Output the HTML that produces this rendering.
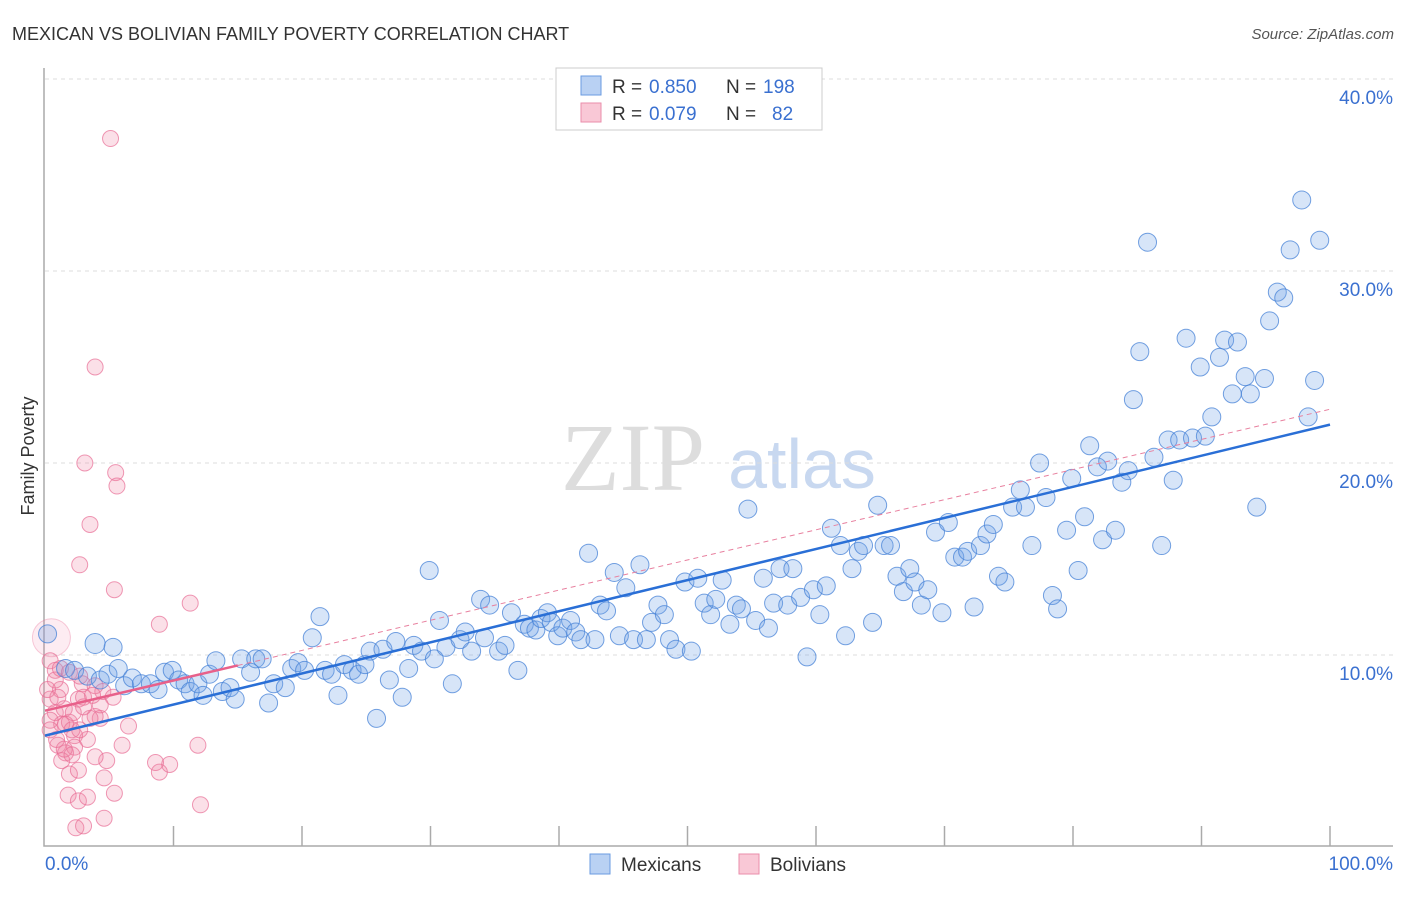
<!DOCTYPE html>
<html><head><meta charset="utf-8"><style>
body{margin:0;background:#fff;font-family:"Liberation Sans",sans-serif;}
</style></head><body>
<svg id="chart" width="1406" height="892" xmlns="http://www.w3.org/2000/svg">
<text x="12" y="40" font-size="18" fill="#333">MEXICAN VS BOLIVIAN FAMILY POVERTY CORRELATION CHART</text>
<text x="1394" y="39" font-size="15" fill="#555" font-style="italic" text-anchor="end">Source: ZipAtlas.com</text>
<text x="633" y="490" font-size="96" fill="#ddd" font-family="Liberation Serif,serif" text-anchor="middle">ZIP</text>
<text x="802" y="488" font-size="70" fill="#c8d8f0" text-anchor="middle">atlas</text>
<text transform="translate(34,456) rotate(-90)" font-size="18" fill="#333" text-anchor="middle">Family Poverty</text>
<g id="grid"></g><g id="axes"></g><g id="pts"></g><g id="trends"></g>
<g>
<rect x="556" y="68" width="266" height="62" fill="#fff" stroke="#ccc"/>
<rect x="581" y="76" width="20" height="19" fill="#b9d1f3" stroke="#6a9be0"/>
<rect x="581" y="103" width="20" height="19" fill="#f9c8d6" stroke="#ea8eab"/>
<text x="612" y="93" font-size="19" fill="#333">R =</text>
<text x="649" y="93" font-size="19" fill="#3a70d0">0.850</text>
<text x="726" y="93" font-size="19" fill="#333">N =</text>
<text x="763" y="93" font-size="19" fill="#3a70d0">198</text>
<text x="612" y="120" font-size="19" fill="#333">R =</text>
<text x="649" y="120" font-size="19" fill="#3a70d0">0.079</text>
<text x="726" y="120" font-size="19" fill="#333">N =</text>
<text x="772" y="120" font-size="19" fill="#3a70d0">82</text>
</g>
<g>
<rect x="590" y="854" width="20" height="20" fill="#b9d1f3" stroke="#6a9be0"/>
<text x="621" y="871" font-size="19" fill="#333">Mexicans</text>
<rect x="739" y="854" width="20" height="20" fill="#f9c8d6" stroke="#ea8eab"/>
<text x="770" y="871" font-size="19" fill="#333">Bolivians</text>
</g>
</svg>
<script>
const yTicks=[10,20,30,40];
const yTickLabels=["10.0%","20.0%","30.0%","40.0%"];
const xTickLabels=["0.0%","100.0%"];
const mexX=[0.2,1.6,2.3,3.9,5.3,3.3,4.3,4.9,5.7,6.2,6.8,7.5,8.2,8.8,9.3,9.9,10.4,10.9,11.3,11.9,12.3,12.8,13.3,13.8,14.4,14.8,15.3,16.0,16.4,16.9,17.4,17.8,18.7,19.2,19.7,20.2,20.8,21.4,21.8,22.3,22.8,23.3,23.9,24.4,24.9,25.3,25.8,26.3,26.8,27.3,27.8,28.3,28.7,29.3,29.9,30.3,30.7,31.2,31.7,32.3,32.7,33.2,33.9,34.2,34.6,35.3,35.8,36.3,36.8,37.3,37.7,38.2,38.6,39.1,39.4,39.9,40.3,40.9,41.3,41.7,42.3,42.8,43.2,43.7,44.3,44.7,45.2,45.8,46.3,46.8,47.2,47.7,48.2,48.6,49.1,49.8,50.3,50.8,51.3,51.8,52.2,52.7,53.3,53.8,54.2,54.7,55.3,55.9,56.3,56.7,57.2,57.8,58.2,58.8,59.3,59.8,60.3,60.8,61.2,61.9,62.3,62.8,63.3,63.7,64.4,64.8,65.3,65.8,66.3,66.8,67.3,67.7,68.2,68.7,69.3,69.8,70.3,70.8,71.4,71.8,72.3,72.8,73.3,73.8,74.2,74.7,75.3,75.9,76.3,76.8,77.4,77.9,78.4,78.8,79.5,79.9,80.4,80.9,81.3,81.9,82.3,82.7,83.3,83.8,84.3,84.7,85.2,85.8,86.3,86.9,87.4,87.8,88.3,88.8,89.3,89.9,90.3,90.8,91.4,91.8,92.4,92.8,93.4,93.8,94.3,94.9,95.3,95.9,96.4,96.9,97.8,98.3,98.8,99.2];
const mexY=[11.1,9.3,9.2,10.6,10.4,8.9,8.7,9.0,9.3,8.4,8.8,8.5,8.5,8.2,9.1,9.2,8.7,8.5,8.1,8.5,7.9,9.0,9.7,8.1,8.3,7.7,9.8,9.1,9.8,9.8,7.5,8.5,8.3,9.3,9.6,9.2,10.9,12.0,9.2,9.0,7.9,9.5,9.2,9.0,9.5,10.2,6.7,10.3,8.7,10.7,7.8,9.3,10.5,10.2,14.4,9.8,11.8,10.4,8.5,10.8,11.2,10.2,12.9,10.9,12.6,10.2,10.5,12.2,9.2,11.6,11.4,11.3,11.9,12.2,11.7,11.0,11.4,11.8,11.2,10.8,15.3,10.8,12.6,12.3,14.3,11.0,13.5,10.8,14.7,10.8,11.7,12.6,12.1,10.8,10.3,13.8,10.2,14.0,12.7,12.1,12.9,13.9,11.6,12.6,12.4,17.6,11.8,14.0,11.4,12.7,14.5,12.6,14.5,13.0,9.9,13.4,12.1,13.6,16.6,15.7,11.0,14.5,15.4,15.7,11.7,17.8,15.7,15.7,14.1,13.3,14.5,13.8,12.6,13.4,16.4,12.2,16.9,15.1,15.1,15.4,12.5,15.7,16.3,16.8,14.1,13.8,17.7,18.6,17.7,15.7,20.0,18.2,13.1,12.4,16.5,19.2,14.4,17.2,20.9,19.8,16.0,20.1,16.5,19.0,19.6,23.3,25.8,31.5,20.3,15.7,21.2,19.1,21.2,26.5,21.3,25.0,21.4,22.4,25.5,26.4,23.6,26.3,24.5,23.6,17.7,24.4,27.4,28.9,28.6,31.1,33.7,22.4,24.3,31.6];
const bolX=[5.1,3.9,3.1,5.5,5.6,3.5,2.7,5.4,11.3,8.9,0.5,0.4,0.8,1.2,0.4,0.8,0.4,1.3,1.9,2.3,1.0,1.6,2.3,1.3,1.9,2.6,1.8,2.6,3.3,2.4,3.0,4.6,5.4,8.9,9.7,8.6,11.9,12.1,6.5,6.0,4.3,3.9,3.3,2.9,3.9,4.5,5.3,2.6,3.0,4.3,4.8,4.6,3.9,1.6,2.1,2.7,3.5,0.8,0.2,1.0,1.5,2.2,0.4,0.9,1.5,2.1,3.0,3.7,1.2,1.9,2.7];
const bolY=[36.9,25.0,20.0,19.5,18.8,16.8,14.7,13.4,12.7,11.6,10.9,9.7,9.2,8.2,7.7,7.0,6.6,6.4,6.5,5.8,5.3,4.9,5.2,4.5,3.8,4.0,2.7,2.4,2.6,1.0,1.1,1.5,2.8,3.9,4.3,4.4,5.3,2.2,6.3,5.3,6.7,6.8,5.6,8.5,8.4,8.1,7.8,7.7,7.8,7.4,4.5,3.6,4.7,6.4,6.1,6.1,6.7,8.7,8.2,7.8,7.2,7.0,6.1,5.6,5.1,4.8,7.3,7.9,9.3,9.1,8.9];
const mexTrend=[5.8,22.0];
const bolTrend=[7.1,22.8];
const bolSolidEnd=15;
const NS="http://www.w3.org/2000/svg";
const xs=v=>45+v*12.85, ys=v=>847-v*19.2;
function mk(t,a,p){const e=document.createElementNS(NS,t);for(const k in a)e.setAttribute(k,a[k]);p.appendChild(e);return e;}
const grid=document.getElementById('grid'),axes=document.getElementById('axes'),pts=document.getElementById('pts'),tr=document.getElementById('trends');
yTicks.forEach((t,i)=>{
 const l=mk('line',{x1:45,x2:1393,y1:ys(t),y2:ys(t),stroke:'#ddd','stroke-dasharray':'4,4'},grid);
 
 
 const tx=mk('text',{x:1393,y:ys(t)+25,'font-size':19,fill:'#3a70d0','text-anchor':'end'},axes);tx.textContent=yTickLabels[i];
 
 
});
const ax=mk('path',{d:'M44,68V846H1393',fill:'none',stroke:'#aaa','stroke-width':1.5},axes);


for(let i=1;i<=10;i++){const tk=mk('line',{x1:xs(i*10),x2:xs(i*10),y1:826,y2:846,stroke:'#aaa','stroke-width':1.5},axes);
 
 }
[[0,45,'start'],[1,1393,'end']].forEach(([i,x,a])=>{const t=mk('text',{x:x,y:870,'font-size':19,fill:'#3a70d0','text-anchor':a},axes);t.textContent=xTickLabels[i];
 
 });
bolX.forEach((x,i)=>{const c=mk('circle',{cx:xs(x),cy:ys(bolY[i]),r:i==10?19:8,fill:i==10?'rgba(240,130,165,0.15)':'rgba(240,130,165,0.25)',stroke:i==10?'rgba(232,110,150,0.35)':'rgba(232,110,150,0.7)','stroke-width':1},pts);
 
 });
mexX.forEach((x,i)=>{const c=mk('circle',{cx:xs(x),cy:ys(mexY[i]),r:i==3?10:9,fill:'rgba(110,160,230,0.28)',stroke:'rgba(70,130,215,0.75)','stroke-width':1},pts);
 
 });
const by=x=>bolTrend[0]+(bolTrend[1]-bolTrend[0])*x/100;
const bd=mk('line',{x1:xs(bolSolidEnd),y1:ys(by(bolSolidEnd)),x2:xs(100),y2:ys(bolTrend[1]),stroke:'#e8809f','stroke-width':1,'stroke-dasharray':'5,4'},tr);


const bs=mk('line',{x1:xs(0),y1:ys(bolTrend[0]),x2:xs(bolSolidEnd),y2:ys(by(bolSolidEnd)),stroke:'#e8608a','stroke-width':2.5},tr);


const ml=mk('line',{x1:xs(0),y1:ys(mexTrend[0]),x2:xs(100),y2:ys(mexTrend[1]),stroke:'#2a6fd6','stroke-width':2.5},tr);


</script>
</body></html>
